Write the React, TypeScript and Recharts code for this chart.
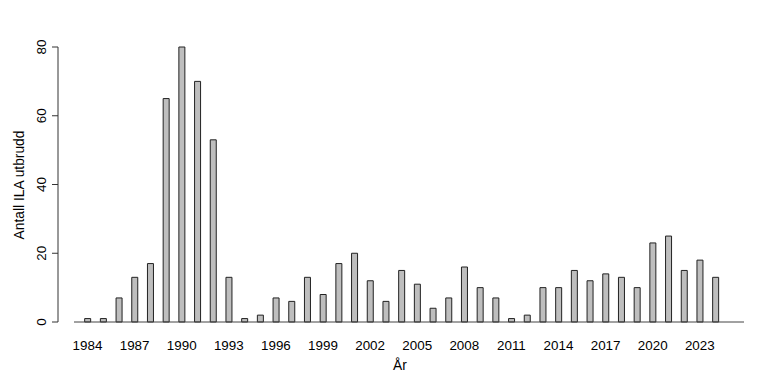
import React from "react";
import { BarChart, Bar, XAxis, YAxis, ReferenceLine } from "recharts";

const years = [
  1984, 1985, 1986, 1987, 1988, 1989, 1990, 1991, 1992, 1993, 1994, 1995, 1996, 1997,
  1998, 1999, 2000, 2001, 2002, 2003, 2004, 2005, 2006, 2007, 2008, 2009, 2010, 2011,
  2012, 2013, 2014, 2015, 2016, 2017, 2018, 2019, 2020, 2021, 2022, 2023, 2024,
];
const outbreaks = [
  1, 1, 7, 13, 17, 65, 80, 70, 53, 13, 1, 2, 7, 6,
  13, 8, 17, 20, 12, 6, 15, 11, 4, 7, 16, 10, 7, 1,
  2, 10, 10, 15, 12, 14, 13, 10, 23, 25, 15, 18, 13,
];
const xTicks = [1984, 1987, 1990, 1993, 1996, 1999, 2002, 2005, 2008, 2011, 2014, 2017, 2020, 2023];
const yTicks = [0, 20, 40, 60, 80];

const data = years.map((y, i) => ({ year: y, value: outbreaks[i] }));

const FONT = "'Liberation Sans', Arial, Helvetica, sans-serif";
const X_MIN = 1982.12;
const X_MAX = 2025.815;
const BASE_START = 1983.14;

const YTick = (props: any) => {
  const { x, y, payload } = props;
  return (
    <text
      x={x}
      y={y}
      transform={`rotate(-90, ${x}, ${y})`}
      textAnchor="middle"
      fontSize={13.4}
      fontFamily={FONT}
      fill="#000"
    >
      {payload.value}
    </text>
  );
};

const XTick = (props: any) => {
  const { x, y, payload } = props;
  return (
    <text x={x} y={y + 28} textAnchor="middle" fontSize={13.4} fontFamily={FONT} fill="#000">
      {payload.value}
    </text>
  );
};

export default function App() {
  return (
    <div style={{ position: "absolute", left: 0, top: 0, width: 768, height: 384, background: "#fff" }}>
      <BarChart
        width={768}
        height={384}
        data={data}
        margin={{ top: 47, right: 24, bottom: 32, left: 0 }}
      >
        <XAxis
          dataKey="year"
          type="number"
          domain={[X_MIN, X_MAX]}
          allowDataOverflow
          ticks={xTicks}
          interval={0}
          axisLine={false}
          tickLine={false}
          tickSize={0}
          tickMargin={0}
          height={30}
          tick={<XTick />}
        />
        <YAxis
          type="number"
          domain={[0, 80]}
          ticks={yTicks}
          interval={0}
          width={58}
          tickSize={6}
          tickMargin={6}
          axisLine={{ stroke: "#333", strokeWidth: 1 }}
          tickLine={{ stroke: "#333", strokeWidth: 1 }}
          tick={<YTick />}
        />
        <ReferenceLine
          segment={[
            { x: BASE_START, y: 0 },
            { x: X_MAX, y: 0 },
          ]}
          stroke="#444"
          strokeWidth={1}
        />
        <Bar
          dataKey="value"
          barSize={6}
          fill="#BEBEBE"
          stroke="#222"
          strokeWidth={1}
          isAnimationActive={false}
        />
        <text
          x={23.5}
          y={185}
          transform="rotate(-90, 23.5, 185)"
          textAnchor="middle"
          fontSize={13.8}
          fontFamily={FONT}
          fill="#000"
        >
          Antall ILA utbrudd
        </text>
        <text x={400} y={370} textAnchor="middle" fontSize={13.8} fontFamily={FONT} fill="#000">
          År
        </text>
      </BarChart>
    </div>
  );
}
